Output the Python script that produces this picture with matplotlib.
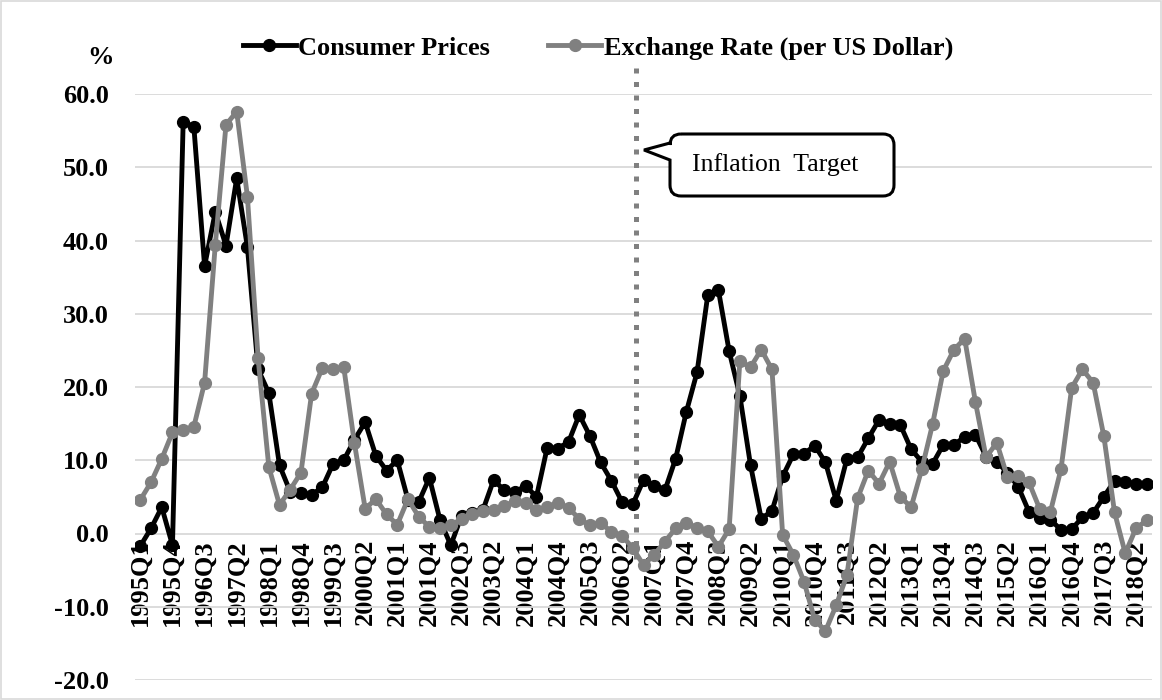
import matplotlib
matplotlib.use("Agg")
import matplotlib.pyplot as plt
from matplotlib.lines import Line2D
from matplotlib.patches import PathPatch, Rectangle
from matplotlib.path import Path
import matplotlib.transforms as mtransforms

# ── data ─────────────────────────────────────────────────────────────────────
quarters = [f"{y}Q{q}" for y in range(1995, 2019) for q in range(1, 5)][:95]

consumer_prices = [
    -1.7, 0.7, 3.6, -1.6, 56.2, 55.5, 36.5, 43.9, 39.3, 48.5,
    39.1, 22.4, 19.2, 9.3, 5.7, 5.5, 5.3, 6.3, 9.5, 10.0,
    12.8, 15.2, 10.6, 8.6, 10.0, 4.6, 4.3, 7.6, 1.8, -1.6,
    2.4, 2.8, 3.2, 7.3, 5.9, 5.7, 6.5, 5.0, 11.7, 11.6,
    12.5, 16.2, 13.3, 9.7, 7.2, 4.3, 4.0, 7.3, 6.5, 5.9,
    10.2, 16.6, 22.0, 32.5, 33.2, 24.9, 18.8, 9.3, 2.0, 3.1,
    7.8, 10.8, 10.9, 12.0, 9.7, 4.5, 10.2, 10.4, 13.0, 15.5,
    15.0, 14.8, 11.5, 9.8, 9.5, 12.1, 12.1, 13.2, 13.5, 10.5,
    9.8, 8.3, 6.4, 3.0, 2.1, 1.9, 0.5, 0.6, 2.2, 2.8,
    5.0, 7.2, 7.0, 6.8, 6.8,
]

exchange_rate = [
    4.6, 7.0, 10.2, 13.8, 14.1, 14.6, 20.6, 39.4, 55.8, 57.6,
    46.0, 23.9, 9.1, 3.9, 6.0, 8.3, 19.1, 22.6, 22.4, 22.7,
    12.3, 3.4, 4.7, 2.6, 1.2, 4.7, 2.3, 0.9, 0.7, 1.1,
    2.0, 2.7, 3.1, 3.2, 3.8, 4.4, 4.2, 3.2, 3.6, 4.2,
    3.5, 2.0, 1.1, 1.5, 0.2, -0.3, -2.0, -4.3, -2.9, -1.1,
    0.7, 1.4, 0.8, 0.3, -1.8, 0.6, 23.5, 22.7, 25.1, 22.4,
    -0.2, -2.9, -6.6, -11.8, -13.3, -9.8, -5.7, 4.8, 8.6, 6.8,
    9.8, 5.0, 3.6, 8.8, 14.9, 22.2, 25.1, 26.6, 18.0, 10.4,
    12.4, 7.7, 7.9, 7.0, 3.4, 2.9, 8.8, 19.9, 22.4, 20.6,
    13.3, 2.9, -2.7, 0.7, 1.8,
]

y_ticks = [-20, -10, 0, 10, 20, 30, 40, 50, 60]
target_pos = 46.3          # inflation targeting introduced (between 2006Q3 and 2006Q4)
target_label = "Inflation  Target"

# ── figure ───────────────────────────────────────────────────────────────────
W, H = 1162, 700
SERIF = ["Liberation Serif", "DejaVu Serif"]
FS = 19
LW, MS = 3.5, 8.5
plt.rcParams["font.family"] = SERIF

fig = plt.figure(figsize=(W / 100, H / 100), dpi=100)
ax = fig.add_axes([135 / W, 1 - 680 / H, (1152 - 135) / W, (680 - 94) / H])

x = list(range(len(quarters)))

ax.plot(x, consumer_prices, color="black", lw=LW, marker="o", ms=MS,
        label="Consumer Prices", zorder=3)
ax.plot(x, exchange_rate, color="#808080", lw=LW, marker="o", ms=MS,
        label="Exchange Rate (per US Dollar)", zorder=4)

# dotted marker for the inflation-targeting start
ax.plot([target_pos, target_pos], [-3.5, 63.5], color="#808080", lw=3.6,
        linestyle=(0, (1, 1.7)), dash_capstyle="butt", clip_on=False, zorder=2)

# category axis crosses at zero (set before the ticks: it resets them)
ax.spines["bottom"].set_position(("data", 0))
for s in ax.spines.values():
    s.set_visible(False)

ax.set_xlim(-0.5, len(quarters) - 0.5)
ax.set_ylim(-20, 60)
ax.set_yticks(y_ticks)
ax.set_yticklabels([f"{v:.1f}" for v in y_ticks], fontweight="bold", fontsize=FS)
ax.set_xticks(x[::3])
ax.set_xticklabels(quarters[::3], rotation=90, fontweight="bold", fontsize=FS)
ax.tick_params(axis="y", length=0, pad=19)
ax.tick_params(axis="x", length=0, pad=4)

ax.yaxis.grid(True, color="#d9d9d9", lw=1.3, zorder=0)
ax.set_axisbelow(True)

fig.text(100 / W, 1 - 57 / H, "%", fontsize=FS, fontweight="bold",
         ha="center", va="center")

# legend
handles = [
    Line2D([], [], color="black", lw=LW, marker="o", ms=MS),
    Line2D([], [], color="#808080", lw=LW, marker="o", ms=MS),
]
fig.legend(handles, ["Consumer Prices", "Exchange Rate (per US Dollar)"],
           loc="center", bbox_to_anchor=(598 / W, 1 - 48 / H), ncol=2,
           frameon=False, handlelength=2.0, handletextpad=0.1,
           columnspacing=2.2, prop={"family": SERIF, "weight": "bold", "size": FS})

# callout box with pointer (pixel coordinates, origin top-left)
def callout_path(x0, y0, x1, y1, r, tip, base_top, base_bot):
    pts = [(x0 + r, y0), (x1 - r, y0), (x1, y0), (x1, y0 + r), (x1, y1 - r),
           (x1, y1), (x1 - r, y1), (x0 + r, y1), (x0, y1), (x0, y1 - r),
           (x0, base_bot), tip, (x0, base_top), (x0, y0 + r), (x0, y0), (x0 + r, y0)]
    codes = [Path.MOVETO, Path.LINETO, Path.CURVE3, Path.CURVE3, Path.LINETO,
             Path.CURVE3, Path.CURVE3, Path.LINETO, Path.CURVE3, Path.CURVE3,
             Path.LINETO, Path.LINETO, Path.LINETO, Path.LINETO, Path.CURVE3, Path.CURVE3]
    pts = [(px, H - py) for px, py in pts]
    return Path(pts, codes)

to_fig = mtransforms.Affine2D().scale(1 / W, 1 / H) + fig.transFigure
box = PathPatch(callout_path(670, 134, 894, 196, 11, (644, 150), 143, 160),
                facecolor="white", edgecolor="black", lw=2.2, transform=to_fig,
                zorder=5)
fig.patches.append(box)
fig.text(775 / W, 1 - 165 / H, target_label, fontsize=18.5, ha="center",
         va="center", zorder=6)

# outer frame
fig.patches.append(Rectangle((1 / W, 1 / H), (W - 2) / W, (H - 2) / H,
                             transform=fig.transFigure, fill=False,
                             edgecolor="#d9d9d9", lw=1.2))

fig.savefig("out.png", dpi=100)
